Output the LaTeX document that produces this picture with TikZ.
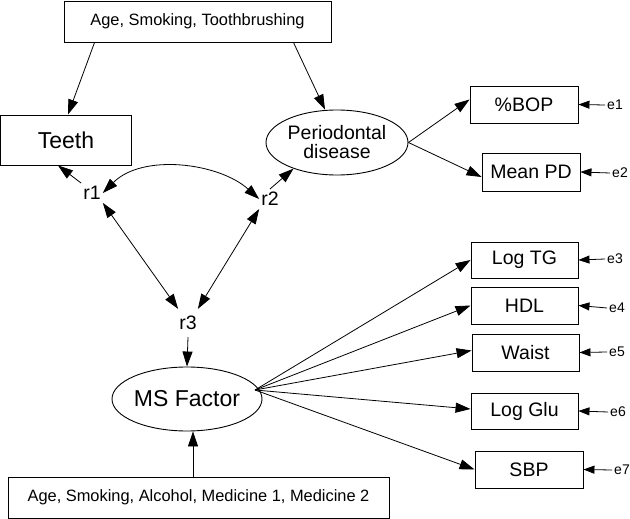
\documentclass[tikz,border=0pt]{standalone}
\usepackage{fontspec}
\setmainfont{Liberation Sans}
\usetikzlibrary{arrows.meta,shapes.geometric,calc}
\begin{document}
\begin{tikzpicture}[x=1pt,y=-1pt,
  box/.style={draw,line width=0.9pt,inner sep=0pt,minimum width=#1},
  ell/.style={draw,ellipse,line width=0.9pt,inner sep=0pt},
  fs/.style={font=\fontsize{16.4}{19}\selectfont},
  fm/.style={font=\fontsize{19.5}{20}\selectfont},
  fl/.style={font=\fontsize{23}{24}\selectfont},
  fe/.style={font=\fontsize{14}{15}\selectfont,inner sep=2pt},
  arr/.style={line width=0.8pt,-{Triangle[length=15pt,width=10pt]}},
  dbl/.style={line width=0.8pt,{Triangle[length=15pt,width=10pt]}-{Triangle[length=15pt,width=10pt]}},
  earr/.style={line width=0.8pt,-{Triangle[length=11pt,width=8pt]}}]
\useasboundingbox (0,0) rectangle (630,519);

% nodes
\node[box=267pt,minimum height=41pt,fs] (top) at (197.5,21.5) {Age, Smoking, Toothbrushing};
\node[box=131pt,minimum height=50pt,fl] (teeth) at (66,140) {Teeth};
\node[ell,minimum width=142pt,minimum height=65pt,fm,align=center] (perio) at (337,142.5) {Periodontal\\[-1pt]disease};
\node[fm,inner xsep=2pt,inner ysep=3pt] (r1) at (92,193) {r1};
\node[fm,inner xsep=2pt,inner ysep=3pt] (r2) at (270,199) {r2};
\node[fm,inner xsep=1pt,inner ysep=7pt] (r3) at (188,323) {r3};
\node[ell,minimum width=140pt,minimum height=64pt,fl] (ms) at (187,399) {MS Factor};
\node[box=381pt,minimum height=41pt,fs] (bot) at (198.5,497.5) {Age, Smoking, Alcohol, Medicine 1, Medicine 2};

\node[box=108pt,minimum height=37pt,fm] (bop) at (524,104.5) {\%BOP};
\node[box=98pt,minimum height=38pt,fm] (pd) at (531,172) {Mean PD};
\node[box=107pt,minimum height=36pt,fm] (tg) at (524.5,260) {Log TG};
\node[box=107pt,minimum height=37pt,fm] (hdl) at (524.5,305.5) {HDL};
\node[box=107pt,minimum height=37pt,fm] (waist) at (525.5,352.5) {Waist};
\node[box=107pt,minimum height=36pt,fm] (glu) at (524.5,411) {Log Glu};
\node[box=108pt,minimum height=37pt,fm] (sbp) at (529,469.5) {SBP};

\node[fe] (e1) at (615,105) {e1};
\node[fe] (e2) at (620,173) {e2};
\node[fe] (e3) at (615,259) {e3};
\node[fe] (e4) at (617,308) {e4};
\node[fe] (e5) at (617,352) {e5};
\node[fe] (e6) at (618,412) {e6};
\node[fe] (e7) at (622,470) {e7};

% connectors
\draw[arr] ([xshift=31pt]top.south west) -- ([xshift=2pt]teeth.north);
\draw[arr] ([xshift=-38pt]top.south east) -- ([xshift=-12pt]perio.north);
\draw[arr] (r1.north west) -- ([xshift=-8pt]teeth.south);
\draw[arr] (r2.north) -- (perio.211);
\draw[dbl] (r1.east) .. controls +(40,-40) and +(-40,-36) .. (r2.west);
\draw[dbl] (r1.south east) -- (r3.north west);
\draw[dbl] (r2.south west) -- (r3.north east);
\draw[arr] (r3.south) -- (ms.north);
\draw[arr] ([xshift=-5.5pt]bot.north) -- ([xshift=-5.5pt]bot.north |- ms.south);

\draw[arr] (perio.east) -- ([yshift=5pt]bop.west);
\draw[arr] (perio.east) -- ([yshift=-5pt]pd.west);

\coordinate (msout) at (255,390);
\draw[arr] (msout) -- (tg.west);
\draw[arr] (msout) -- (hdl.west);
\draw[arr] (msout) -- ([yshift=2pt]waist.west);
\draw[arr] (msout) -- ([yshift=2pt]glu.west);
\draw[arr] (msout) -- (sbp.west);

\draw[earr] (e1.west) -- (bop.east);
\draw[earr] (e2.west) -- (pd.east);
\draw[earr] (e3.west) -- (tg.east);
\draw[earr] (e4.west) -- (hdl.east);
\draw[earr] (e5.west) -- (waist.east);
\draw[earr] (e6.west) -- (glu.east);
\draw[earr] (e7.west) -- (sbp.east);
\end{tikzpicture}
\end{document}
